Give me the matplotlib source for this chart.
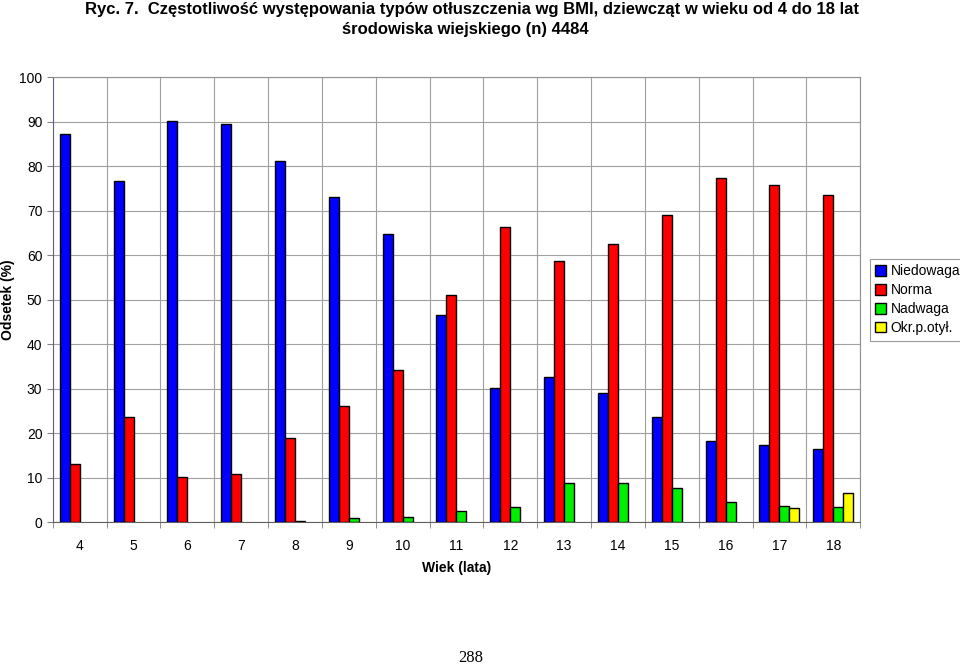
import numpy as np
import matplotlib
matplotlib.use('Agg')
from matplotlib import pyplot as plt
from matplotlib.patches import Patch

plt.rcParams['font.family'] = ['Liberation Sans', 'DejaVu Sans']

# data
ages = [4, 5, 6, 7, 8, 9, 10, 11, 12, 13, 14, 15, 16, 17, 18]
niedowaga = [87.2, 76.6, 90.1, 89.4, 81.1, 73.0, 64.7, 46.5, 30.1, 32.6, 29.0, 23.6, 18.2, 17.3, 16.4]
norma = [13.0, 23.6, 10.1, 10.8, 18.9, 26.1, 34.2, 51.0, 66.3, 58.7, 62.5, 69.0, 77.3, 75.7, 73.5]
nadwaga = [0, 0, 0, 0, 0.2, 1.0, 1.2, 2.5, 3.5, 8.7, 8.8, 7.6, 4.5, 3.7, 3.4]
otylosc = [0, 0, 0, 0, 0, 0, 0, 0, 0, 0, 0, 0, 0, 3.2, 6.6]

series = [('Niedowaga', niedowaga, '#0000ff'),
          ('Norma', norma, '#ff0000'),
          ('Nadwaga', nadwaga, '#00ee00'),
          ('Okr.p.otył.', otylosc, '#ffff00')]

fig = plt.figure(figsize=(9.6, 6.66), dpi=100)
ax = fig.add_axes([0.055, 0.216, 0.841, 0.668])

x = np.arange(len(ages))
w = 0.186
for i, (name, vals, col) in enumerate(series):
    vals = np.array(vals)
    m = vals > 0
    ax.bar(x[m] + (i - 1.5) * w, vals[m], width=w, color=col,
           edgecolor='black', linewidth=1.0, zorder=3)

ax.set_xlim(-0.5, len(ages) - 0.5)
ax.set_ylim(0, 100)
ax.set_yticks(range(0, 101, 10))
ax.set_xticks(x)
ax.set_xticklabels([str(a) for a in ages])
ax.set_xticks(np.arange(len(ages) + 1) - 0.5, minor=True)
ax.tick_params(axis='x', which='major', length=0, pad=12, labelsize=10)
ax.tick_params(axis='x', which='minor', length=4, color='#808080')
ax.tick_params(axis='y', length=4, color='#808080', labelsize=10)

ax.grid(True, axis='y', color='#a0a0a0', linewidth=0.8, zorder=0)
ax.grid(True, axis='x', which='minor', color='#a0a0a0', linewidth=0.8, zorder=0)
for s in ax.spines.values():
    s.set_color('#909090')
ax.spines['left'].set_color('#606080')
ax.spines['bottom'].set_color('#606060')

ax.set_xlabel('Wiek (lata)', fontweight='bold', fontsize=10, labelpad=6)
ax.set_ylabel('Odsetek (%)', fontweight='bold', fontsize=10)
ax.yaxis.set_label_coords(-0.047, 0.5)

fig.text(0.492, 0.997, 'Ryc. 7.  Częstotliwość występowania typów otłuszczenia wg BMI, dziewcząt w wieku od 4 do 18 lat',
         ha='center', va='top', fontsize=12, fontweight='bold')
fig.text(0.485, 0.967, 'środowiska wiejskiego (n) 4484', ha='center', va='top',
         fontsize=12, fontweight='bold')

handles = [Patch(facecolor=c, edgecolor='black', label=n) for n, v, c in series]
leg = fig.legend(handles=handles, loc='center left', bbox_to_anchor=(0.906, 0.55),
                 fontsize=10, frameon=True, fancybox=False, handlelength=0.8,
                 handleheight=0.8, handletextpad=0.3, borderpad=0.4,
                 labelspacing=0.35, borderaxespad=0)
leg.get_frame().set_edgecolor('#808080')
leg.get_frame().set_linewidth(0.8)

fig.text(0.49, 0.0, '288', ha='center', va='bottom', fontsize=12,
         family='Liberation Serif')

plt.savefig('out.png', dpi=100)
